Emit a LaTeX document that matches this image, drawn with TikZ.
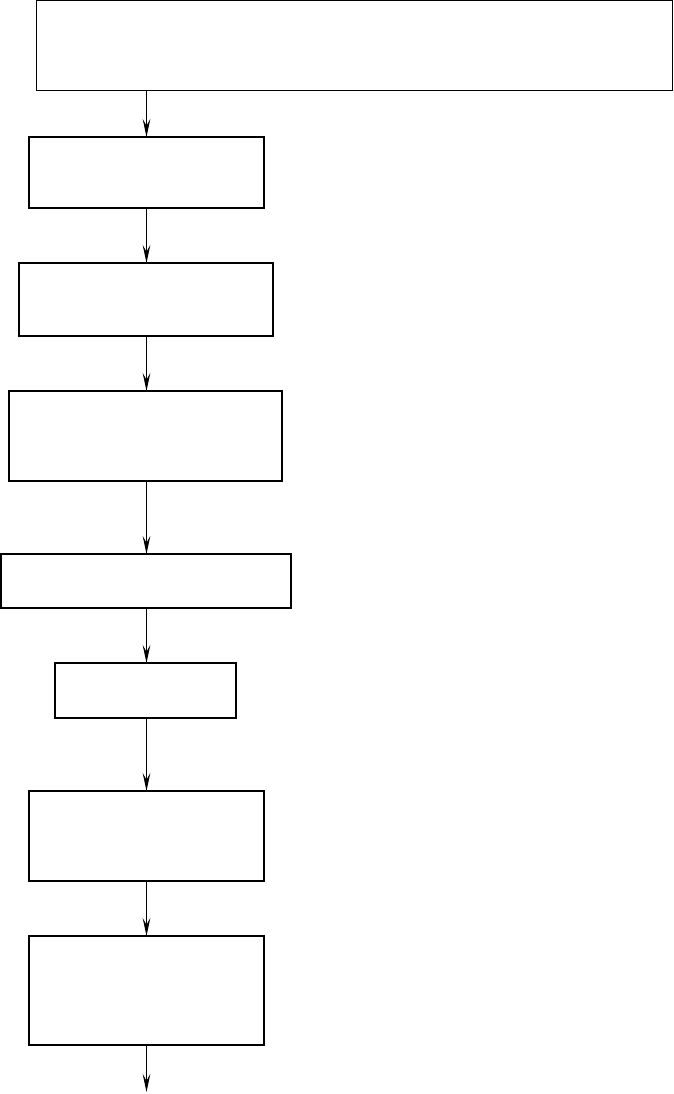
\documentclass[tikz,border=0pt]{standalone}
\usepackage{tikz}
\usetikzlibrary{positioning,arrows.meta}

\begin{document}
\begin{tikzpicture}[
    x=0.025cm, y=-0.025cm,
    >={Stealth[length=0.45cm,width=0.19cm,inset=0.17cm]},
    line width=0.8pt,
    box/.style={draw, inner sep=0pt, outer sep=0pt, minimum width=5.875cm, minimum height=2.25cm},
    widebox/.style={box, minimum width=15.875cm},
    lowbox/.style={box, minimum height=1.35cm}
]
  \useasboundingbox (0,0) rectangle (674,1094);

  % nodi
  \node[widebox] (b1) at (354.5,45.5) {};
  \node[box, minimum height=1.775cm] (b2) at (146.5,172.5) {};
  \node[box, minimum width=6.35cm, minimum height=1.825cm] (b3) at (146,299.5) {};
  \node[box, minimum width=6.825cm] (b4) at (145.5,436) {};
  \node[lowbox, minimum width=7.25cm] (b5) at (146,581) {};
  \node[lowbox, minimum width=4.525cm, minimum height=1.375cm] (b6) at (145.5,690.5) {};
  \node[box] (b7) at (146.5,836) {};
  \node[box, minimum height=2.725cm] (b8) at (146.5,990.5) {};
  \coordinate (fine) at (146.5,1092);

  % frecce
  \draw[->] (b2.north |- b1.south) -- (b2.north);
  \draw[->] (b2.south) -- (b3.north -| b2.south);
  \draw[->] (b3.south -| b2.south) -- (b4.north -| b2.south);
  \draw[->] (b4.south -| b2.south) -- (b5.north -| b2.south);
  \draw[->] (b5.south -| b2.south) -- (b6.north -| b2.south);
  \draw[->] (b6.south -| b2.south) -- (b7.north);
  \draw[->] (b7.south) -- (b8.north);
  \draw[->] (b8.south) -- (fine);

\end{tikzpicture}
\end{document}
